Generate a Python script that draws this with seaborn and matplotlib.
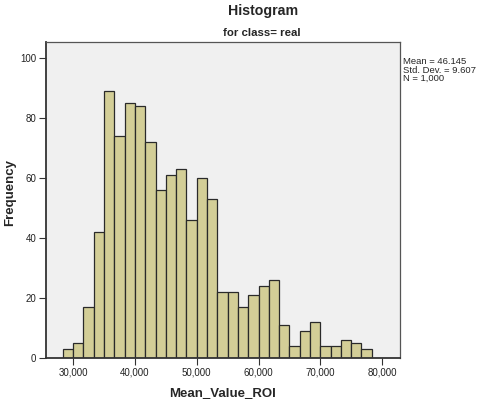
import matplotlib
matplotlib.use("Agg")
import matplotlib.pyplot as plt
import seaborn as sns
import numpy as np
import pandas as pd

# Data
counts = [3, 5, 17, 42, 89, 74, 85, 84, 72, 56, 61, 63, 46, 60, 53,
          22, 22, 17, 21, 24, 26, 11, 4, 9, 12, 4, 4, 6, 5, 3]
bin_start = 28.3333
bin_width = 1.66667
x_ticks = [30, 40, 50, 60, 70, 80]
x_tick_labels = ["30,000", "40,000", "50,000", "60,000", "70,000", "80,000"]
y_ticks = [0, 20, 40, 60, 80, 100]
stats_text = "Mean = 46.145\nStd. Dev. = 9.607\nN = 1,000"

edges = bin_start + bin_width * np.arange(len(counts) + 1)
centers = (edges[:-1] + edges[1:]) / 2
df = pd.DataFrame({"value": centers, "count": counts})

sns.set_style("white")
plt.rcParams['font.family'] = ['Liberation Sans', 'DejaVu Sans']

fig = plt.figure(figsize=(4.8, 3.99), dpi=100)
ax = fig.add_axes([46/480, 1-358/399, (400-46)/480, (358-42)/399])
ax.set_facecolor("#F0F0F0")

sns.histplot(data=df, x="value", weights="count", bins=len(counts),
             binrange=(float(edges[0]), float(edges[-1])), ax=ax,
             color="#D3CE97", edgecolor="#2a2a2a", linewidth=0.9, alpha=1.0)

ax.set_xlim(25.6, 82.9)
ax.set_ylim(0, 105.3)
ax.set_xticks(x_ticks)
ax.set_xticklabels(x_tick_labels)
ax.set_yticks(y_ticks)
ax.tick_params(axis='both', labelsize=7, length=5, width=0.8, color="#333333",
               labelcolor="#222222", direction='out', pad=2)
ax.tick_params(axis='both', which='both', bottom=True, left=True)
for s in ax.spines.values():
    s.set_color("#555555")
    s.set_linewidth(0.9)
ax.spines['bottom'].set_linewidth(1.3)
ax.spines['bottom'].set_color("#333333")
ax.spines['left'].set_linewidth(1.3)
ax.spines['left'].set_color("#333333")

ax.set_xlabel("Mean_Value_ROI", fontsize=9.5, fontweight='bold', labelpad=7)
ax.set_ylabel("")
fig.text(10/480, 1-192/399, "Frequency", rotation=90, fontsize=9.5,
         fontweight='bold', ha='center', va='center')

fig.text(263/480, 1-11/399, "Histogram", fontsize=10.2, fontweight='bold',
         ha='center', va='center')
fig.text(262/480, 1-33/399, "for class= real", fontsize=8.2, fontweight='bold',
         ha='center', va='center')
fig.text(403/480, 1-57/399, stats_text, fontsize=6.8, ha='left', va='top',
         linespacing=0.95)

fig.savefig("out.png", dpi=100)
